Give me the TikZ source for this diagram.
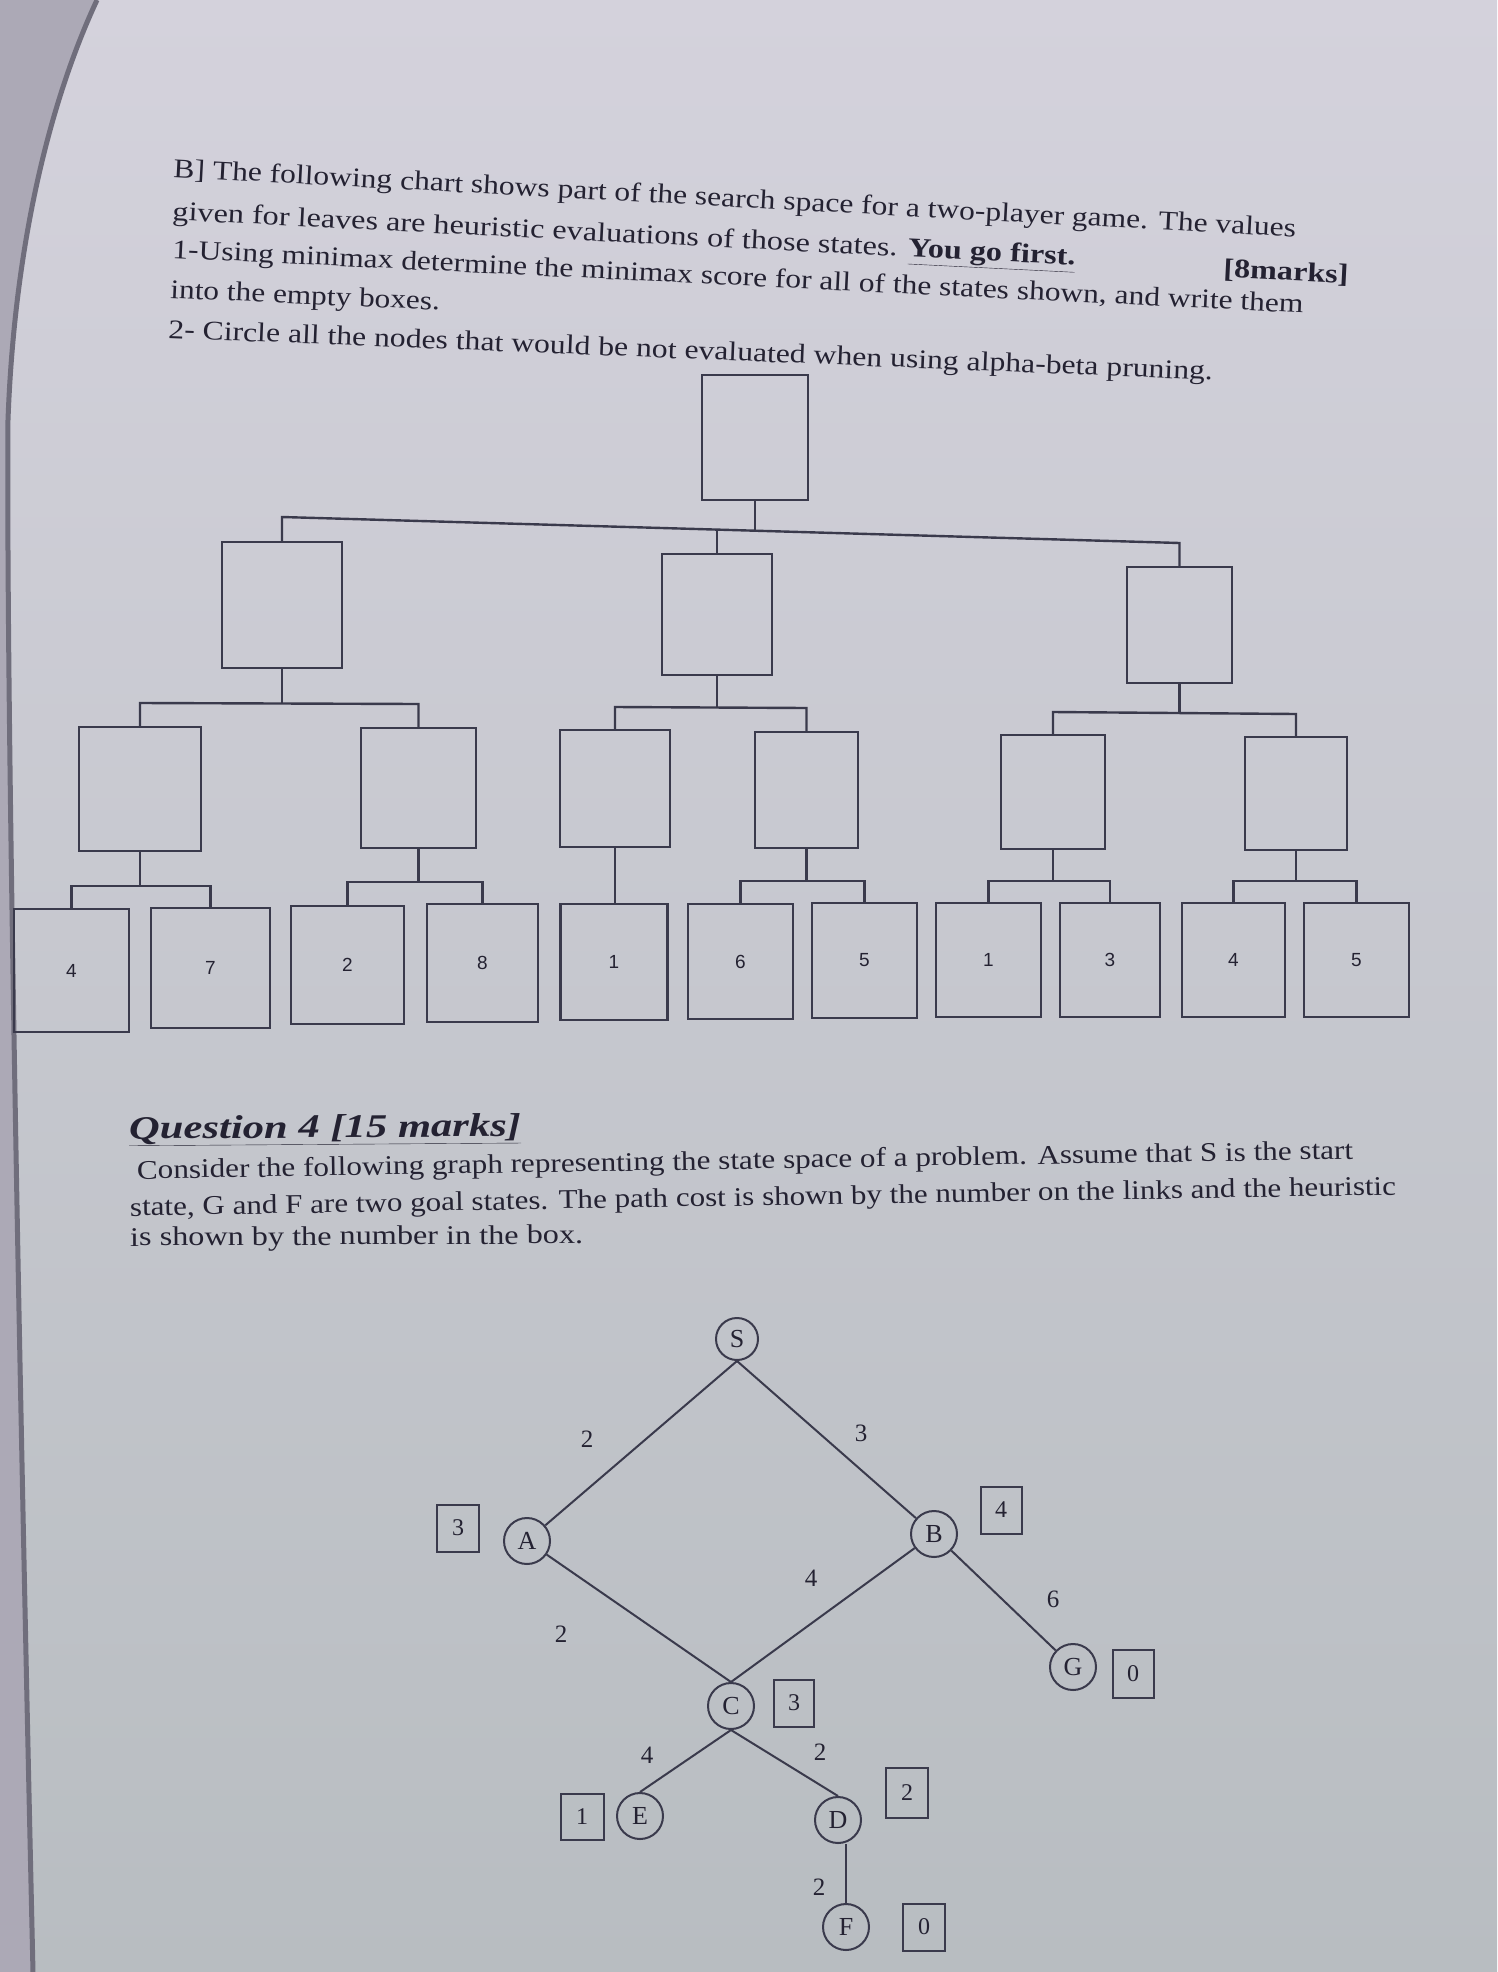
\documentclass[tikz,border=0pt]{standalone}
\usepackage{fontspec}
\setmainfont{Liberation Serif}
\newfontfamily\arialf{Liberation Sans}
\usepackage{graphicx}
\definecolor{ink}{RGB}{36,34,50}
\definecolor{linec}{RGB}{58,58,76}
\definecolor{papertop}{RGB}{212,210,220}
\definecolor{paperbot}{RGB}{184,189,193}
\definecolor{shadowc}{RGB}{172,169,182}
\definecolor{edgedark}{RGB}{112,110,124}
\tikzset{
 treebox/.style={draw=linec, line width=2.4pt, rectangle, inner sep=0pt},
 leafbox/.style={treebox, font=\arialf\fontsize{19}{21}\selectfont, text=ink},
 conn/.style={draw=linec, line width=2.4pt},
 textline/.style={anchor=base west, inner sep=0pt, text=ink, font=\fontsize{27}{30}\selectfont},
 gnode/.style={circle, draw=linec, line width=2pt, minimum size=46pt, inner sep=0pt, font=\fontsize{26}{28}\selectfont, text=ink},
 hbox/.style={rectangle, draw=linec, line width=2pt, inner sep=0pt, font=\fontsize{24}{26}\selectfont, text=ink},
 elabel/.style={inner sep=0pt, font=\fontsize{25}{27}\selectfont, text=ink},
 gedge/.style={draw=linec, line width=2pt},
}
\begin{document}
\begin{tikzpicture}[x=1pt, y=-1pt]
% paper
\shade[top color=papertop, bottom color=paperbot] (0,0) rectangle (1497,1972);
\useasboundingbox (0,0) rectangle (1497,1972);
\fill[shadowc] (0,0) -- (97,0) .. controls (55,90) and (15,230) .. (8,420) .. controls (6,700) and (20,1400) .. (33,1972) -- (0,1972) -- cycle;
\draw[edgedark, line width=5pt] (97,0) .. controls (55,90) and (15,230) .. (8,420) .. controls (6,700) and (20,1400) .. (33,1972);

% ---- text of part B ----
\node[textline, rotate=-3.06] (t1) at (173,177) {\resizebox{1124pt}{\height}{B] The following chart shows part of the search space for a two-player game. The values}};
\node[textline, rotate=-2.85] (t2) at (172,220) {\resizebox{904pt}{\height}{given for leaves are heuristic evaluations of those states. \textbf{\underline{You go first.}}}};
\node[textline, rotate=-2.85] (t2b) at (1223,277) {\resizebox{125pt}{\height}{\textbf{[8marks]}}};
\node[textline, rotate=-2.78] (t3) at (172,258) {\resizebox{1132pt}{\height}{1-Using minimax determine the minimax score for all of the states shown, and write them}};
\node[textline, rotate=-2.6] (t4) at (170,298) {\scalebox{1.16}[1]{into the empty boxes.}};
\node[textline, rotate=-2.3] (t5) at (168,338) {\resizebox{1045pt}{\height}{2- Circle all the nodes that would be not evaluated when using alpha-beta pruning.}};

% ---- game tree ----
\node[treebox, minimum width=106pt, minimum height=125pt] (root) at (755,437.5) {};
\node[treebox, minimum width=120pt, minimum height=126pt] (l1a) at (282,605) {};
\node[treebox, minimum width=110pt, minimum height=121pt] (l1b) at (717,614.5) {};
\node[treebox, minimum width=105pt, minimum height=116pt] (l1c) at (1179.5,625) {};

\node[treebox, minimum width=122pt, minimum height=124pt] (l2a) at (140,789) {};
\node[treebox, minimum width=115pt, minimum height=120pt] (l2b) at (418.5,788) {};
\node[treebox, minimum width=110pt, minimum height=117pt] (l2c) at (615,788.5) {};
\node[treebox, minimum width=103pt, minimum height=116pt] (l2d) at (806.5,790) {};
\node[treebox, minimum width=104pt, minimum height=114pt] (l2e) at (1053,792) {};
\node[treebox, minimum width=102pt, minimum height=113pt] (l2f) at (1296,793.5) {};

\node[leafbox, minimum width=115pt, minimum height=123pt] (lf1) at (71.5,970.5) {4};
\node[leafbox, minimum width=119pt, minimum height=120pt] (lf2) at (210.5,968) {7};
\node[leafbox, minimum width=113pt, minimum height=118pt] (lf3) at (347.5,965) {2};
\node[leafbox, minimum width=111pt, minimum height=118pt] (lf4) at (482.5,963) {8};
\node[leafbox, minimum width=107pt, minimum height=116pt] (lf5) at (614,962) {1};
\node[leafbox, minimum width=105pt, minimum height=115pt] (lf6) at (740.5,961.5) {6};
\node[leafbox, minimum width=105pt, minimum height=115pt] (lf7) at (864.5,960.5) {5};
\node[leafbox, minimum width=105pt, minimum height=114pt] (lf8) at (988.5,960) {1};
\node[leafbox, minimum width=100pt, minimum height=114pt] (lf9) at (1110,960) {3};
\node[leafbox, minimum width=103pt, minimum height=114pt] (lf10) at (1233.5,960) {4};
\node[leafbox, minimum width=105pt, minimum height=114pt] (lf11) at (1356.5,960) {5};

% connectors level 0 -> 1
\coordinate (b0m) at (755,530.7);
\coordinate (b0l) at (282,517);
\coordinate (b0r) at (1179.5,543);
\coordinate (b0c) at (717,529.6);
\draw[conn] (root.south) -- (b0m);
\draw[conn] (l1a.north) -- (b0l) -- (b0r) -- (l1c.north);
\draw[conn] (b0c) -- (l1b.north);
% level 1 -> 2
\coordinate (b1am) at (282,703.5);
\coordinate (b1al) at (140,703);
\coordinate (b1ar) at (418.5,704);
\draw[conn] (l1a.south) -- (b1am);
\draw[conn] (l2a.north) -- (b1al) -- (b1ar) -- (l2b.north);
\coordinate (b1bm) at (717,707.5);
\coordinate (b1bl) at (615,707);
\coordinate (b1br) at (806.5,708);
\draw[conn] (l1b.south) -- (b1bm);
\draw[conn] (l2c.north) -- (b1bl) -- (b1br) -- (l2d.north);
\coordinate (b1cm) at (1179.5,713);
\coordinate (b1cl) at (1053,712);
\coordinate (b1cr) at (1296,714);
\draw[conn] (l1c.south) -- (b1cm);
\draw[conn] (l2e.north) -- (b1cl) -- (b1cr) -- (l2f.north);
% level 2 -> 3
\coordinate (b2am) at (140,886);
\coordinate (b2al) at (71.5,886);
\coordinate (b2ar) at (210.5,886);
\draw[conn] (l2a.south) -- (b2am);
\draw[conn] (lf1.north) -- (b2al) -- (b2ar) -- (lf2.north);
\coordinate (b2bm) at (418.5,882);
\coordinate (b2bl) at (347.5,882);
\coordinate (b2br) at (482.5,882);
\draw[conn] (l2b.south) -- (b2bm);
\draw[conn] (lf3.north) -- (b2bl) -- (b2br) -- (lf4.north);
\draw[conn] (l2c.south) -- (l2c.south |- lf5.north);
\coordinate (b2dm) at (806.5,881);
\coordinate (b2dl) at (740.5,881);
\coordinate (b2dr) at (864.5,881);
\draw[conn] (l2d.south) -- (b2dm);
\draw[conn] (lf6.north) -- (b2dl) -- (b2dr) -- (lf7.north);
\coordinate (b2em) at (1053,881);
\coordinate (b2el) at (988.5,881);
\coordinate (b2er) at (1110,881);
\draw[conn] (l2e.south) -- (b2em);
\draw[conn] (lf8.north) -- (b2el) -- (b2er) -- (lf9.north);
\coordinate (b2fm) at (1296,881);
\coordinate (b2fl) at (1233.5,881);
\coordinate (b2fr) at (1356.5,881);
\draw[conn] (l2f.south) -- (b2fm);
\draw[conn] (lf10.north) -- (b2fl) -- (b2fr) -- (lf11.north);

% ---- Question 4 ----
\node[textline, font=\bfseries\itshape\fontsize{33}{36}\selectfont, rotate=0.4] (q4) at (129,1139) {\resizebox{392pt}{\height}{\underline{Question 4 [15 marks]}}};
\node[textline, rotate=0.94] (p1) at (137,1179) {\resizebox{1216pt}{\height}{Consider the following graph representing the state space of a problem. Assume that S is the start}};
\node[textline, rotate=0.95] (p2) at (130,1216) {\resizebox{1266pt}{\height}{state, G and F are two goal states. The path cost is shown by the number on the links and the heuristic}};
\node[textline, rotate=0.3] (p3) at (130,1246) {\resizebox{453pt}{\height}{is shown by the number in the box.}};

% ---- state-space graph ----
\node[gnode, minimum size=42pt] (S) at (737,1339) {S};
\node[gnode] (A) at (527,1541) {A};
\node[gnode] (B) at (934,1534) {B};
\node[gnode] (C) at (731,1706) {C};
\node[gnode] (E) at (640,1816) {E};
\node[gnode] (D) at (838,1820) {D};
\node[gnode] (F) at (846,1927) {F};
\node[gnode] (G) at (1073,1667) {G};

\node[hbox, minimum width=42pt, minimum height=47pt] (hA) at (458,1528) {3};
\node[hbox, minimum width=41pt, minimum height=47pt] (hB) at (1001,1510) {4};
\node[hbox, minimum width=40pt, minimum height=47pt] (hC) at (794,1703) {3};
\node[hbox, minimum width=43pt, minimum height=46pt] (hE) at (582,1817) {1};
\node[hbox, minimum width=42pt, minimum height=50pt] (hD) at (907,1793) {2};
\node[hbox, minimum width=42pt, minimum height=47pt] (hF) at (924,1927) {0};
\node[hbox, minimum width=41pt, minimum height=48pt] (hG) at (1133,1674) {0};

\draw[gedge] (S.south) -- (A);
\draw[gedge] (S.south) -- (B);
\draw[gedge] (A) -- (C.north);
\draw[gedge] (B) -- (C.north);
\draw[gedge] (B) -- (G);
\draw[gedge] (C.south) -- (E.north);
\draw[gedge] (C.south) -- (D.north);
\draw[gedge] (F.north |- D.south) -- (F.north);

\node[elabel] (lSA) at (587,1439) {2};
\node[elabel] (lSB) at (861,1433) {3};
\node[elabel] (lBC) at (811,1578) {4};
\node[elabel] (lBG) at (1053,1599) {6};
\node[elabel] (lAC) at (561,1634) {2};
\node[elabel] (lCE) at (647,1755) {4};
\node[elabel] (lCD) at (820,1752) {2};
\node[elabel] (lDF) at (819,1887) {2};
\end{tikzpicture}
\end{document}
